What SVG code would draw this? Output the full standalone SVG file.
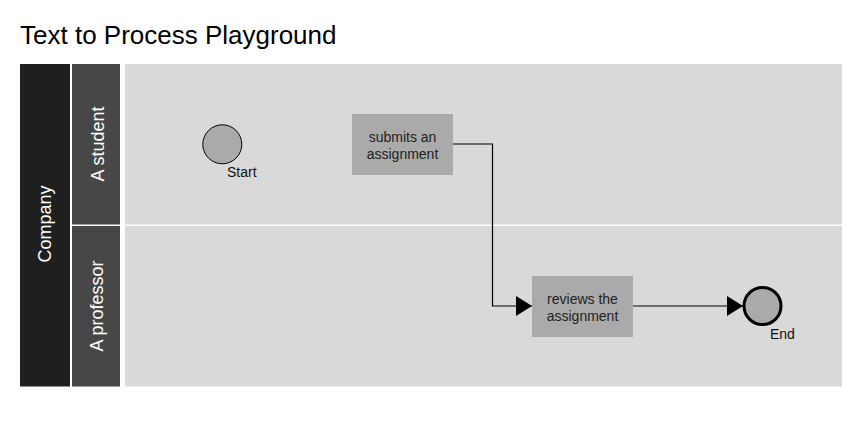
<svg xmlns="http://www.w3.org/2000/svg" width="859" height="428" viewBox="0 0 859 428">
<style>
  text { font-family: "Liberation Sans", Arial, sans-serif; }
  .title { font-size: 26px; fill: #000; }
  .pool { fill: #1f1f1f; }
  .lanehead { fill: #474747; }
  .lane { fill: #d9d9d9; }
  .hdr { font-size: 18px; fill: #fff; text-anchor: middle; }
  .task { fill: #aaaaaa; }
  .tl { font-size: 14px; fill: #222; text-anchor: middle; }
  .lbl { font-size: 14px; fill: #111; }
  .conn { fill: none; stroke: #000; stroke-width: 1.2; }
</style>
<defs>
  <marker id="arr" viewBox="0 0 16 20" refX="16" refY="10" markerWidth="16" markerHeight="20" markerUnits="userSpaceOnUse" orient="auto">
    <path d="M0,0 L16,10 L0,20 Z" fill="#000"/>
  </marker>
</defs>
<rect width="859" height="428" fill="#fff"/>
<text class="title" x="20" y="43.5">Text to Process Playground</text>
<g id="pool-company">
  <rect class="pool" x="20" y="64" width="50" height="322.5"/>
  <text class="hdr" transform="translate(51,224) rotate(-90)">Company</text>
</g>
<g id="lane-student">
  <rect class="lanehead" x="72" y="64" width="48" height="160.5"/>
  <rect class="lane" x="125" y="64" width="717" height="160.5"/>
  <text class="hdr" transform="translate(104,144) rotate(-90)">A student</text>
</g>
<g id="lane-professor">
  <rect class="lanehead" x="72" y="226" width="48" height="160.5"/>
  <rect class="lane" x="125" y="226" width="717" height="160.5"/>
  <text class="hdr" transform="translate(103,306) rotate(-90)">A professor</text>
</g>
<g id="connectors">
  <path class="conn" d="M453,144 H492.5 V306 H532" marker-end="url(#arr)"/>
  <path class="conn" d="M633,306 H743" marker-end="url(#arr)"/>
</g>
<g id="start">
  <circle cx="222.3" cy="144.3" r="19.5" fill="#aaaaaa" stroke="#000" stroke-width="1"/>
  <text class="lbl" x="227" y="177">Start</text>
</g>
<g id="task-submit">
  <rect class="task" x="352" y="114" width="101" height="61"/>
  <text class="tl" x="402.5" y="142">submits an</text>
  <text class="tl" x="402.5" y="158.5">assignment</text>
</g>
<g id="task-review">
  <rect class="task" x="532" y="276" width="101" height="61"/>
  <text class="tl" x="582.5" y="304">reviews the</text>
  <text class="tl" x="582.5" y="320.5">assignment</text>
</g>
<g id="end">
  <circle cx="762.5" cy="306" r="18.5" fill="#aaaaaa" stroke="#000" stroke-width="3"/>
  <text class="lbl" x="770" y="339">End</text>
</g>
</svg>
